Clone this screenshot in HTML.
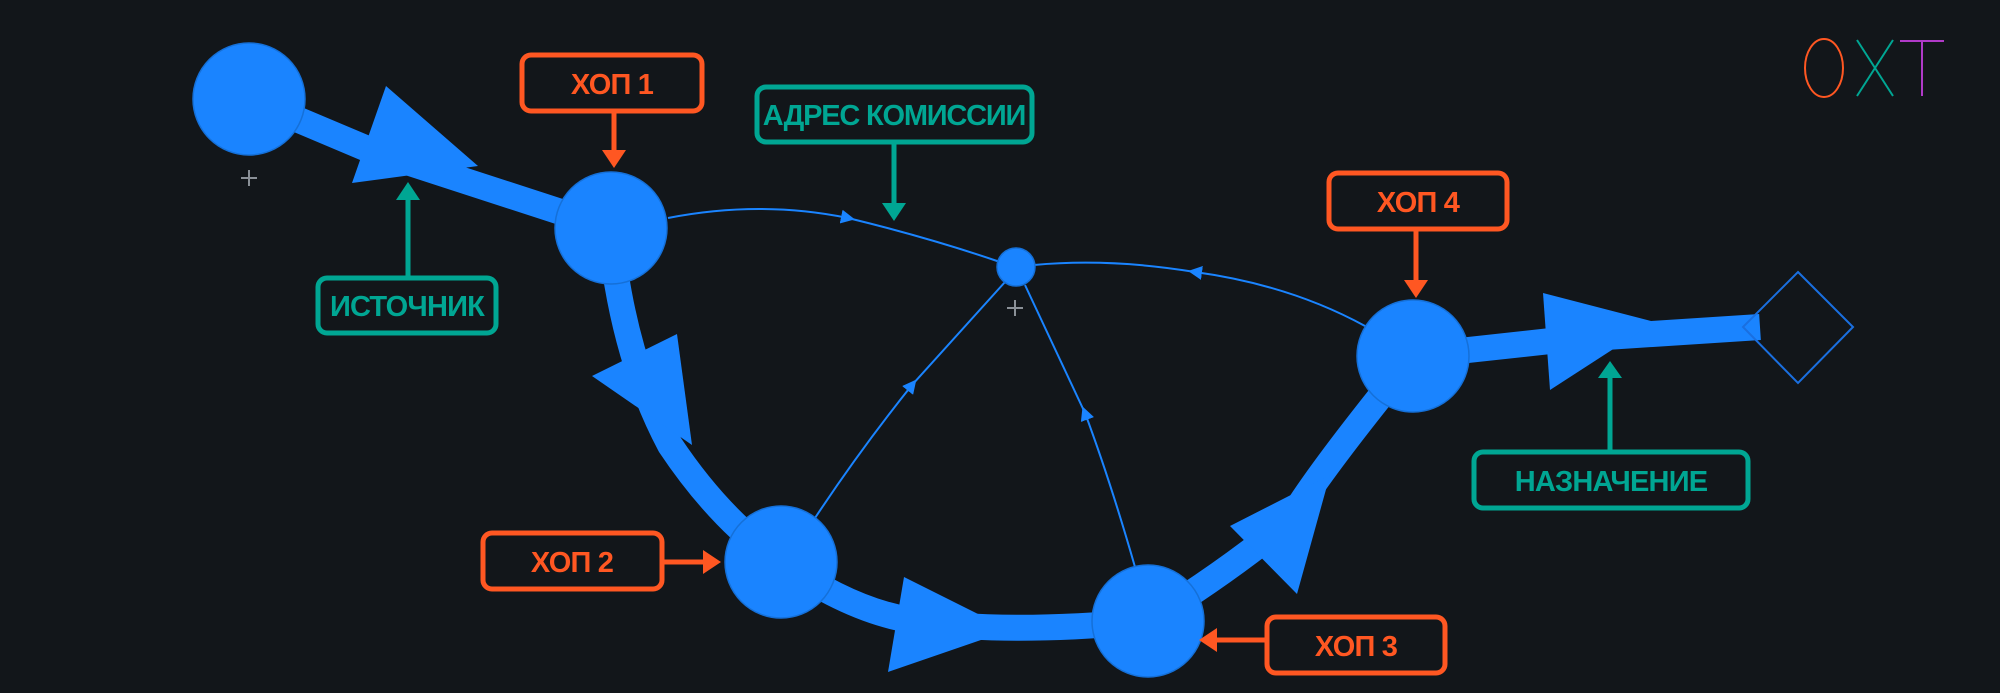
<!DOCTYPE html>
<html><head><meta charset="utf-8"><style>
html,body{margin:0;padding:0;background:#12161a;}
svg{display:block}
text{font-family:"Liberation Sans","DejaVu Sans",sans-serif;font-weight:bold;}
</style></head><body>
<svg width="2000" height="693" viewBox="0 0 2000 693" xmlns="http://www.w3.org/2000/svg">
<rect width="2000" height="693" fill="#12161a"/>
<defs>
<marker id="sa" viewBox="0 0 10 10" refX="5" refY="5" markerWidth="7" markerHeight="7" orient="auto"><path d="M0,0 L10,5 L0,10 z" fill="#1a84ff"/></marker>
</defs>
<g fill="none" stroke="#1a84ff" stroke-width="2">
<path d="M668,218 Q760,200 848,218"  marker-end="url(#sa)"/>
<path d="M848,218 Q930,238 1000,262"/>
<path d="M1365,326 Q1290,285 1195,272" marker-end="url(#sa)"/>
<path d="M1195,272 Q1110,258 1034,265"/>
<path d="M815,518 Q860,450 912,385" marker-end="url(#sa)"/>
<path d="M912,385 L1005,282"/>
<path d="M1135,567 Q1110,480 1085,413" marker-end="url(#sa)"/>
<path d="M1085,413 L1025,285"/>
</g>
<g fill="none" stroke="#1a84ff" stroke-width="26" stroke-linecap="butt">
<path d="M249,99 L370,150 L610,228"/>
<path d="M615,270 Q630,370 670,445 Q720,520 781,562"/>
<path d="M781,562 Q850,610 910,620 Q1000,635 1148,621"/>
<path d="M1148,621 Q1230,570 1290,520 Q1320,470 1413,356"/>
<path d="M1413,356 L1560,340 L1760,327"/>
</g>
<g fill="#1a84ff">
<polygon points="386,86 352,183 478,166"/>
<polygon points="677,334 592,376 692,445"/>
<polygon points="904,577 888,672 1010,630"/>
<polygon points="1230,526 1297,594 1330,475"/>
<polygon points="1543,293 1550,390 1655,322"/>
</g>
<g fill="#1a84ff" stroke="#1570d8" stroke-width="1.5">
<circle cx="249" cy="99" r="56"/>
<circle cx="611" cy="228" r="56"/>
<circle cx="781" cy="562" r="56"/>
<circle cx="1148" cy="621" r="56"/>
<circle cx="1413" cy="356" r="56"/>
<circle cx="1016" cy="267" r="19"/>
</g>
<polygon points="1798,272 1853,327 1798,383 1743,327" fill="none" stroke="#1a6fe0" stroke-width="2"/>
<g stroke="#8a9097" stroke-width="2"><path d="M241,178 h16 M249,170 v16 M1007,308 h16 M1015,300 v16"/></g>
<g fill="none" stroke-width="5">
<rect x="522" y="55" width="180" height="56" rx="9" stroke="#ff5722"/>
<rect x="757" y="87" width="275" height="55" rx="9" stroke="#00a693"/>
<rect x="318" y="278" width="178" height="55" rx="9" stroke="#00a693"/>
<rect x="483" y="533" width="179" height="56" rx="9" stroke="#ff5722"/>
<rect x="1267" y="617" width="178" height="56" rx="9" stroke="#ff5722"/>
<rect x="1329" y="173" width="178" height="56" rx="9" stroke="#ff5722"/>
<rect x="1474" y="452" width="274" height="56" rx="9" stroke="#00a693"/>
</g>
<g stroke-width="5">
<line x1="614" y1="113" x2="614" y2="150" stroke="#ff5722"/>
<line x1="894" y1="143" x2="894" y2="205" stroke="#00a693"/>
<line x1="408" y1="276" x2="408" y2="198" stroke="#00a693"/>
<line x1="662" y1="562" x2="705" y2="562" stroke="#ff5722"/>
<line x1="1265" y1="640" x2="1215" y2="640" stroke="#ff5722"/>
<line x1="1416" y1="231" x2="1416" y2="282" stroke="#ff5722"/>
<line x1="1610" y1="450" x2="1610" y2="376" stroke="#00a693"/>
</g>
<polygon points="602,150 626,150 614,168" fill="#ff5722"/>
<polygon points="882,203 906,203 894,221" fill="#00a693"/>
<polygon points="396,200 420,200 408,182" fill="#00a693"/>
<polygon points="703,550 703,574 721,562" fill="#ff5722"/>
<polygon points="1217,628 1217,652 1199,640" fill="#ff5722"/>
<polygon points="1404,280 1428,280 1416,298" fill="#ff5722"/>
<polygon points="1598,378 1622,378 1610,361" fill="#00a693"/>
<g font-size="29" text-anchor="middle" letter-spacing="-0.8">
<text x="612" y="94" fill="#ff5722">ХОП 1</text>
<text x="894" y="125" fill="#00a693" letter-spacing="-1.2">АДРЕС КОМИССИИ</text>
<text x="407" y="316" fill="#00a693">ИСТОЧНИК</text>
<text x="572" y="572" fill="#ff5722">ХОП 2</text>
<text x="1356" y="656" fill="#ff5722">ХОП 3</text>
<text x="1418" y="212" fill="#ff5722">ХОП 4</text>
<text x="1611" y="491" fill="#00a693">НАЗНАЧЕНИЕ</text>
</g>
<g fill="none" stroke-width="2">
<ellipse cx="1824" cy="68" rx="19" ry="29" stroke="#ff5722"/>
<path d="M1857,40 L1893,96 M1893,40 L1857,96" stroke="#00a693"/>
<path d="M1900,41 H1944 M1922,41 V96" stroke="#b03ac8"/>
</g>
</svg>
</body></html>
